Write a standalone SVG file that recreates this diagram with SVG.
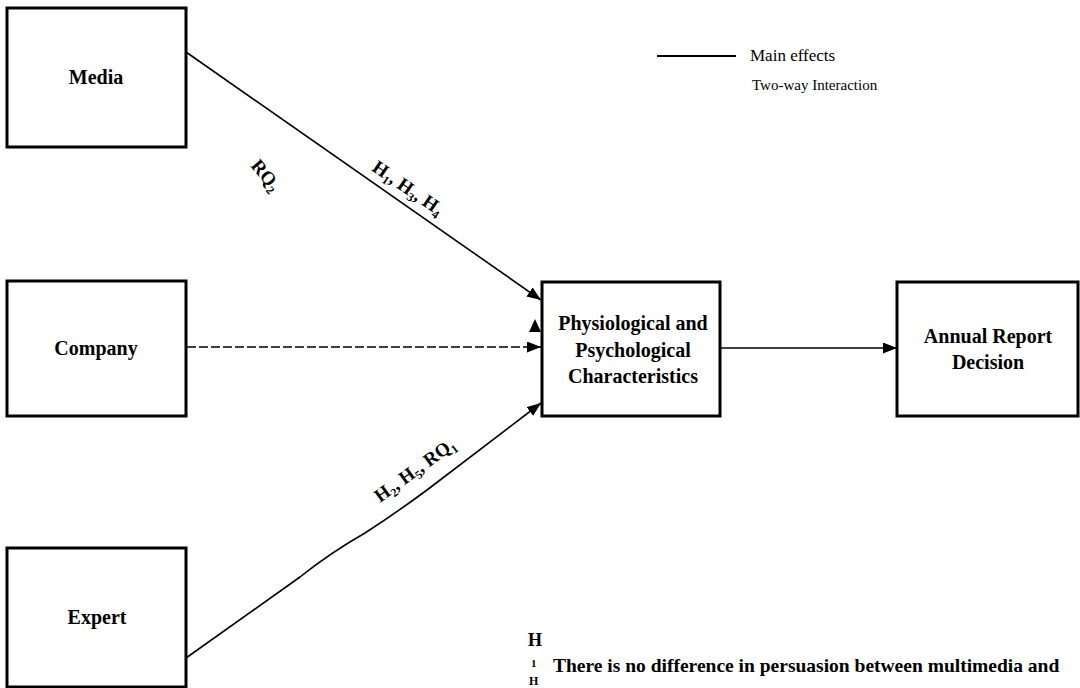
<svg xmlns="http://www.w3.org/2000/svg" width="1080" height="688" viewBox="0 0 1080 688">
  <style>
    .box { fill: #ffffff; stroke: #000000; stroke-width: 3; }
    .lbl { font-family: "Liberation Serif", "Times New Roman", serif; font-weight: bold; font-size: 20px; fill: #000; text-anchor: middle; }
    .edge { fill: none; stroke: #000; stroke-width: 1.6; }
    .dash { stroke-dasharray: 9 3; }
    .elbl { font-family: "Liberation Serif", "Times New Roman", serif; font-weight: bold; font-size: 19px; fill: #000; }
    .leg { font-family: "Liberation Serif", "Times New Roman", serif; font-size: 17px; fill: #000; }
    .leg2 { font-family: "Liberation Serif", "Times New Roman", serif; font-size: 15px; fill: #000; }
    .note { font-family: "Liberation Serif", "Times New Roman", serif; font-weight: bold; font-size: 19.5px; fill: #000; }
  </style>
  <defs>
    <marker id="arr" markerUnits="userSpaceOnUse" markerWidth="15" markerHeight="12" refX="14" refY="5.5" orient="auto">
      <path d="M0,0 L14,5.5 L0,11 z" fill="#000"/>
    </marker>
  </defs>
  <rect width="1080" height="688" fill="#ffffff"/>

  <g id="connectors">
    <path class="edge" d="M186,52 L541,300" marker-end="url(#arr)"/>
    <path class="edge dash" d="M187,347 L541,347" marker-end="url(#arr)"/>
    <path class="edge" d="M186,658 L300,577 Q330,553 365,533 Q396,513 427,490 L541,403" marker-end="url(#arr)"/>
    <path class="edge" d="M720,348 L897,348" marker-end="url(#arr)"/>
    <polygon points="535,319 529,332 541,332" fill="#000"/>
  </g>

  <g id="edge-labels">
    <text class="elbl" transform="translate(250,166) rotate(50)">RQ<tspan font-size="12" dy="4">2</tspan></text>
    <text class="elbl" transform="translate(371,170) rotate(34.5)">H<tspan font-size="12" dy="4">1</tspan><tspan dy="-4">, H</tspan><tspan font-size="12" dy="4">3</tspan><tspan dy="-4">, H</tspan><tspan font-size="12" dy="4">4</tspan></text>
    <text class="elbl" transform="translate(380,503) rotate(-36)">H<tspan font-size="12" dy="4">2</tspan><tspan dy="-4">, H</tspan><tspan font-size="12" dy="4">5</tspan><tspan dy="-4">, RQ</tspan><tspan font-size="12" dy="4">1</tspan></text>
  </g>

  <g id="media">
    <rect class="box" x="7" y="8" width="179" height="139"/>
    <text class="lbl" x="96" y="84">Media</text>
  </g>
  <g id="company">
    <rect class="box" x="7" y="281" width="179" height="135"/>
    <text class="lbl" x="96" y="355">Company</text>
  </g>
  <g id="expert">
    <rect class="box" x="7" y="548" width="179" height="139"/>
    <text class="lbl" x="97" y="624">Expert</text>
  </g>
  <g id="physio">
    <rect class="box" x="542" y="282" width="178" height="134"/>
    <text class="lbl" x="633" y="330">Physiological and</text>
    <text class="lbl" x="633" y="357">Psychological</text>
    <text class="lbl" x="633" y="383">Characteristics</text>
  </g>
  <g id="annual">
    <rect class="box" x="897" y="282" width="181" height="134"/>
    <text class="lbl" x="988" y="343">Annual Report</text>
    <text class="lbl" x="988" y="369">Decision</text>
  </g>

  <g id="legend">
    <line x1="657" y1="56" x2="736" y2="56" stroke="#000" stroke-width="1.8"/>
    <text class="leg" x="750" y="61">Main effects</text>
    <text class="leg2" x="752" y="90">Two-way Interaction</text>
  </g>

  <g id="note">
    <text class="note"><tspan x="528" y="646" font-size="18">H</tspan><tspan x="531" y="667" font-size="11">1</tspan><tspan x="529" y="685" font-size="12">H</tspan></text>
    <text class="note" x="553" y="672">There is no difference in persuasion between multimedia and</text>
  </g>
</svg>
